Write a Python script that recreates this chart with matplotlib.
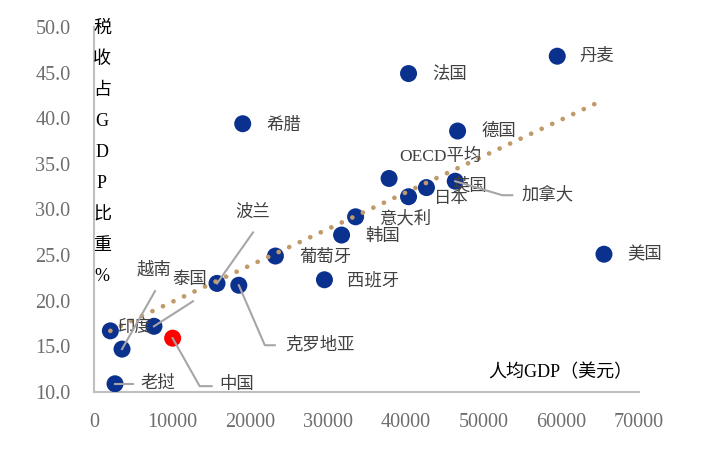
import matplotlib
matplotlib.use("Agg")
import matplotlib.pyplot as plt
from matplotlib.lines import Line2D

plt.rcParams['font.family'] = ['Liberation Serif', 'Noto Sans CJK SC', 'DejaVu Sans']

# ---- data ----
countries = ['丹麦', '法国', '德国', '希腊', 'OECD平均', '日本', '英国', '加拿大',
             '美国', '西班牙', '葡萄牙', '韩国', '意大利', '克罗地亚', '波兰',
             '泰国', '越南', '印度', '老挝']
gdp_pc = [59500, 40400, 46700, 19100, 37900, 40400, 42700, 46400,
          65500, 29600, 23300, 31800, 33600, 18600, 15800,
          7700, 3600, 2100, 2700]
tax_ratio = [46.8, 44.9, 38.6, 39.4, 33.4, 31.4, 32.4, 33.1,
             25.1, 22.3, 24.9, 27.2, 29.2, 21.7, 21.9,
             17.2, 14.7, 16.7, 10.9]
china_name = '中国'
china_gdp = 10100
china_tax = 15.9
trend_x = [2100, 64400]
trend_y = [16.7, 41.6]
x_ticks = [0, 10000, 20000, 30000, 40000, 50000, 60000, 70000]
y_ticks = [10.0, 15.0, 20.0, 25.0, 30.0, 35.0, 40.0, 45.0, 50.0]
y_label_chars = ['税', '收', '占', 'G', 'D', 'P', '比', '重', '%']
x_label = '人均GDP（美元）'

# label offsets (pixels) relative to points, and leader paths
label_off = {
    '丹麦': (22, -1), '法国': (24, -1), '德国': (24, -1), '希腊': (24, -2),
    'OECD平均': (10, 22), '日本': (25, -2), '英国': (26, 1), '加拿大': (66, -14),
    '美国': (23, -1), '西班牙': (23, -1), '葡萄牙': (24, -2), '韩国': (24, -2),
    '意大利': (24, -2), '克罗地亚': (46, -60), '波兰': (18, 71), '泰国': (18, 46),
    '越南': (15, 79), '印度': (8, 3), '老挝': (25, 0), '中国': (47, -47),
}
leaders = {
    '老挝': [(0, 0), (18, 0)],
    '中国': [(0, 0), (27, -48), (39, -48)],
    '克罗地亚': [(0, 0), (26, -60), (36, -60)],
    '泰国': [(0, 0), (39, 25)],
    '越南': [(0, 0), (33, 58)],
    '波兰': [(0, 0), (36, 51)],
    '加拿大': [(0, 0), (47, -14), (57, -14)],
}

W, H = 705, 450
fig = plt.figure(figsize=(W / 100, H / 100), dpi=100)
ax = fig.add_axes([94 / W, 1 - 392 / H, (639 - 94) / W, (392 - 27) / H])
ax.set_xlim(0, 70000)
ax.set_ylim(10, 50)

blue = '#0B318F'
ax.scatter(gdp_pc, tax_ratio, s=150, color=blue, edgecolors='none', zorder=3)
ax.scatter([china_gdp], [china_tax], s=150, color='#FF0000', edgecolors='none', zorder=3)
ax.plot(trend_x, trend_y, color='#C09A68', lw=3.4, linestyle=(0, (0.01, 2.45)),
        dash_capstyle='round', solid_capstyle='round', zorder=4)

for side in ['top', 'right']:
    ax.spines[side].set_visible(False)
for side in ['left', 'bottom']:
    ax.spines[side].set_color('#BFBFBF')
    ax.spines[side].set_linewidth(1.5)
ax.set_xticks(x_ticks)
ax.set_xticklabels([str(v) for v in x_ticks])
ax.set_yticks(y_ticks)
ax.set_yticklabels([f'{v:.1f}' for v in y_ticks])
ax.tick_params(length=0, labelsize=14.5, colors='#6E6E6E')
ax.tick_params(axis='y', pad=17)
ax.tick_params(axis='x', pad=15)

all_names = countries + [china_name]
all_x = gdp_pc + [china_gdp]
all_y = tax_ratio + [china_tax]
fig.canvas.draw()
for name, x, y in zip(all_names, all_x, all_y):
    dx, dy = label_off[name]
    ax.annotate(name, (x, y), xytext=(dx, dy), textcoords='offset pixels',
                ha='left', va='center', fontsize=12.5, color='#404040', zorder=5)
    if name in leaders:
        px, py = ax.transData.transform((x, y))
        xs = [px + a for a, b in leaders[name]]
        ys = [py + b for a, b in leaders[name]]
        fig.add_artist(Line2D(xs, ys, transform=None, color='#A6A6A6', lw=1.5, zorder=6))

for i, ch in enumerate(y_label_chars):
    fig.text(102 / W, 1 - (28 + i * 31.1) / H, ch, ha='center', va='center',
             fontsize=13, color='black')
fig.text(560 / W, 1 - 373 / H, x_label, ha='center', va='center', fontsize=13, color='black')

fig.savefig('out.png', dpi=100)
